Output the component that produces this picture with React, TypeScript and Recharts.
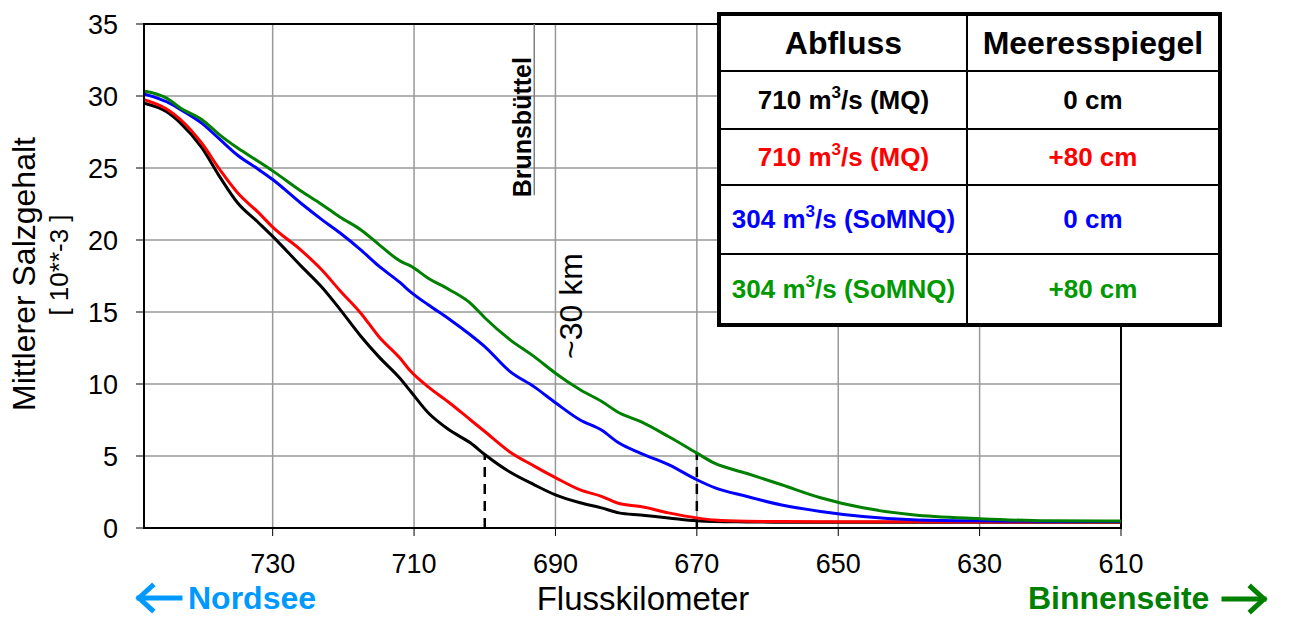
import { CartesianGrid, Line, LineChart, ReferenceArea, ReferenceLine, XAxis, YAxis } from 'recharts';

const FONT = '"Liberation Sans", Arial, sans-serif';

// Flusskilometer (Elbe), sampled along the curves
const km = [
  748.2, 745, 743, 740, 737.5, 735, 732, 730, 726, 723,
  720.5, 717.5, 715, 712, 710.5, 708, 705, 702, 700, 696.5,
  693, 690, 686.5, 683.5, 681, 678, 674, 670, 667.5, 663,
  658, 652.5, 646.5, 639.5, 630, 620.5, 610,
];

const mq0 = [
  29.5, 28.9, 28.1, 26.4, 24.4, 22.6, 21.2, 20.25, 18.2, 16.7,
  15.2, 13.3, 11.9, 10.4, 9.5, 8.0, 6.8, 5.9, 5.1, 3.9,
  3.0, 2.3, 1.75, 1.4, 1.05, 0.9, 0.7, 0.5, 0.45, 0.42,
  0.4, 0.4, 0.4, 0.4, 0.4, 0.4, 0.4,
];

const mq80 = [
  29.75, 29.1, 28.35, 26.7, 24.9, 23.3, 21.9, 20.9, 19.3, 17.9,
  16.5, 14.9, 13.3, 11.8, 10.9, 9.8, 8.7, 7.5, 6.7, 5.3,
  4.3, 3.5, 2.65, 2.2, 1.7, 1.5, 1.05, 0.7, 0.55, 0.47,
  0.45, 0.44, 0.43, 0.43, 0.42, 0.42, 0.42,
];

const nq0 = [
  30.15, 29.6, 29.05, 28.1, 27.0, 25.9, 24.9, 24.2, 22.55, 21.4,
  20.5, 19.3, 18.2, 17.05, 16.4, 15.5, 14.5, 13.4, 12.6, 10.9,
  9.8, 8.7, 7.5, 6.8, 5.9, 5.2, 4.4, 3.35, 2.8, 2.2,
  1.6, 1.15, 0.8, 0.58, 0.5, 0.46, 0.45,
];

const nq80 = [
  30.35, 29.85, 29.15, 28.35, 27.3, 26.4, 25.45, 24.8, 23.4, 22.45,
  21.6, 20.7, 19.7, 18.55, 18.2, 17.35, 16.55, 15.6, 14.6, 13.1,
  11.9, 10.75, 9.6, 8.8, 8.0, 7.4, 6.35, 5.2, 4.5, 3.8,
  3.0, 2.1, 1.4, 0.92, 0.65, 0.5, 0.48,
];

const xTicks = [730, 710, 690, 670, 650, 630, 610];
const yTicks = [0, 5, 10, 15, 20, 25, 30, 35];

const series = [
  { key: 'mq0', flow: 710, q: 'MQ', level: '0 cm', line: '#000000', text: '#000000', values: mq0 },
  { key: 'mq80', flow: 710, q: 'MQ', level: '+80 cm', line: '#ff0000', text: '#ff0000', values: mq80 },
  { key: 'nq0', flow: 304, q: 'SoMNQ', level: '0 cm', line: '#0000ff', text: '#0000ff', values: nq0 },
  { key: 'nq80', flow: 304, q: 'SoMNQ', level: '+80 cm', line: '#008000', text: '#009900', values: nq80 },
];

const data = km.map((k, i) => {
  const row: Record<string, number> = { km: k };
  series.forEach((s) => (row[s.key] = s.values[i]));
  return row;
});

const rowHeights = [57, 58, 56, 69, 71];

function LegendTable() {
  const cell = (w: number, extra: React.CSSProperties = {}): React.CSSProperties => ({
    width: w,
    border: '2px solid #000',
    textAlign: 'center',
    padding: 0,
    fontWeight: 'bold',
    ...extra,
  });
  return (
    <table
      style={{
        position: 'absolute',
        left: 717,
        top: 12,
        width: 505,
        borderCollapse: 'collapse',
        border: '4px solid #000',
        background: '#fff',
        fontFamily: FONT,
      }}
    >
      <tbody>
        <tr style={{ height: rowHeights[0] }}>
          <td style={cell(253, { fontSize: 32 })}>Abfluss</td>
          <td style={cell(252, { fontSize: 32 })}>Meeresspiegel</td>
        </tr>
        {series.map((s, i) => (
          <tr key={s.key} style={{ height: rowHeights[i + 1] }}>
            <td style={cell(253, { fontSize: 26, color: s.text })}>
              {s.flow} m<sup style={{ fontSize: 17, verticalAlign: 'top', lineHeight: '16px' }}>3</sup>/s ({s.q})
            </td>
            <td style={cell(252, { fontSize: 26, color: s.text })}>{s.level}</td>
          </tr>
        ))}
      </tbody>
    </table>
  );
}

function BrunsLabel(props: any) {
  const vb = props.viewBox;
  const x = vb.x - 3;
  const y = vb.y + vb.height + 2;
  return (
    <text
      x={x}
      y={y}
      transform={`rotate(-90, ${x}, ${y})`}
      textAnchor="start"
      fontFamily={FONT}
      fontWeight="bold"
      fontSize={25}
      fill="#000"
    >
      Brunsbüttel
    </text>
  );
}

export default function App() {
  return (
    <div style={{ position: 'absolute', left: 0, top: 0, width: 1291, height: 617, background: '#fff' }}>
      <LineChart
        width={1291}
        height={617}
        data={data}
        margin={{ top: 24, right: 170, left: 0, bottom: 0 }}
      >
        <CartesianGrid stroke="#999" strokeWidth={1.5} />
        <XAxis
          dataKey="km"
          type="number"
          domain={[610, 748.2]}
          reversed
          ticks={xTicks}
          allowDataOverflow
          height={89}
          tickSize={8}
          tickMargin={18}
          tick={{ fontSize: 27, fill: '#000', fontFamily: FONT }}
          tickLine={{ stroke: '#000', strokeWidth: 1 }}
          axisLine={{ stroke: '#000', strokeWidth: 2 }}
        />
        <YAxis
          type="number"
          domain={[0, 35]}
          ticks={yTicks}
          width={144}
          tickSize={8}
          tickMargin={18}
          tick={{ fontSize: 27, fill: '#000', fontFamily: FONT }}
          tickLine={{ stroke: '#000', strokeWidth: 1 }}
          axisLine={{ stroke: '#000', strokeWidth: 2 }}
        />
        <ReferenceArea x1={748.2} x2={610} y1={0} y2={35} fill="none" stroke="#000" strokeWidth={2} ifOverflow="visible" />
        <ReferenceLine
          segment={[{ x: 693, y: 23.1 }, { x: 693, y: 35 }]}
          stroke="#808080"
          strokeWidth={1.5}
          label={<BrunsLabel />}
        />
        <ReferenceLine segment={[{ x: 700, y: 0 }, { x: 700, y: 5.1 }]} stroke="#000" strokeWidth={2.5} strokeDasharray="10 7" />
        <ReferenceLine segment={[{ x: 670, y: 0 }, { x: 670, y: 5.2 }]} stroke="#000" strokeWidth={2.5} strokeDasharray="10 7" />
        {series.map((s) => (
          <Line
            key={s.key}
            type="monotone"
            dataKey={s.key}
            stroke={s.line}
            strokeWidth={3}
            dot={false}
            isAnimationActive={false}
          />
        ))}
      </LineChart>
      <svg
        width={1291}
        height={617}
        style={{ position: 'absolute', left: 0, top: 0, pointerEvents: 'none' }}
        fontFamily={FONT}
      >
        <text x={35} y={274} transform="rotate(-90, 35, 274)" textAnchor="middle" fontSize={32} fill="#000">
          Mittlerer Salzgehalt
        </text>
        <text x={68} y={265} transform="rotate(-90, 68, 265)" textAnchor="middle" fontSize={26} fill="#000">
          [ 10**-3 ]
        </text>
        <text x={582} y={306} transform="rotate(-90, 582, 306)" textAnchor="middle" fontSize={32} fill="#000">
          ~30 km
        </text>
        <text x={643} y={610} textAnchor="middle" fontSize={33} fill="#000">
          Flusskilometer
        </text>
        <g stroke="#0099ff" strokeWidth={5} fill="none" strokeLinecap="square">
          <line x1={139} y1={598} x2={180} y2={598} />
          <polyline points="152,586 139,598 152,610" />
        </g>
        <text x={188} y={609} fontSize={32} fontWeight="bold" fill="#0099ff">
          Nordsee
        </text>
        <text x={1028} y={609} fontSize={32} fontWeight="bold" fill="#008000">
          Binnenseite
        </text>
        <g stroke="#008000" strokeWidth={5} fill="none" strokeLinecap="square">
          <line x1={1224} y1={599} x2={1264} y2={599} />
          <polyline points="1251,587 1264,599 1251,611" />
        </g>
      </svg>
      <LegendTable />
    </div>
  );
}
